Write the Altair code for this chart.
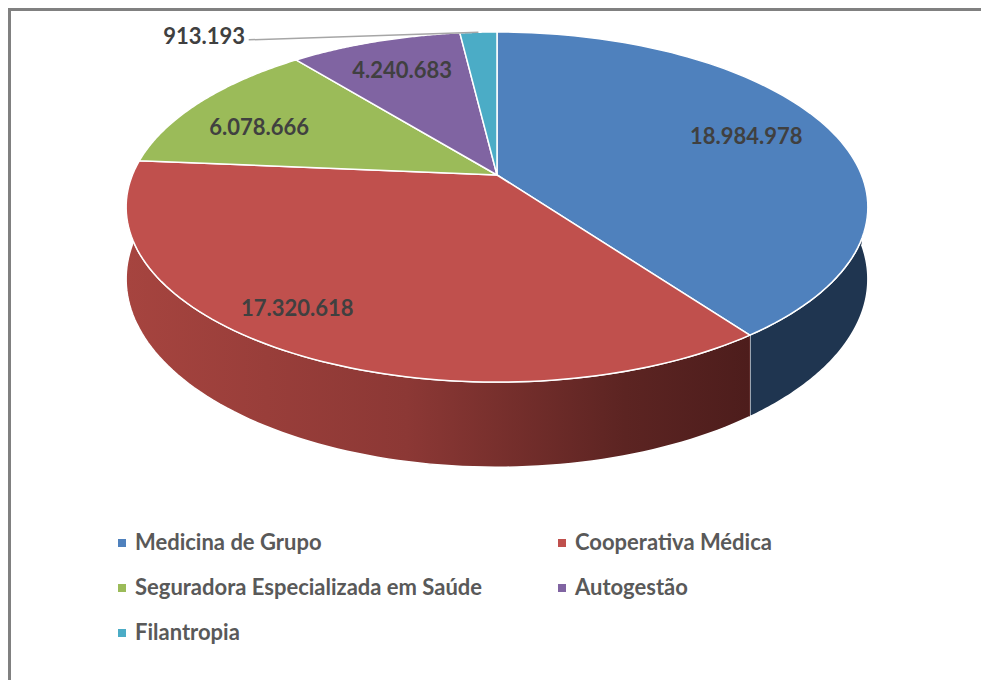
import altair as alt
import pandas as pd

# ---- data ----
categories = [
    "Medicina de Grupo",
    "Cooperativa Médica",
    "Seguradora Especializada em Saúde",
    "Autogestão",
    "Filantropia",
]
beneficiarios = [18984978, 17320618, 6078666, 4240683, 913193]
value_labels = [f"{v:,}".replace(",", ".") for v in beneficiarios]

# ---- styles ----
top_colors = ["#4F81BD", "#C0504D", "#9BBB59", "#8064A2", "#4BACC6"]
side_colors = ["#1F3550", "#8A3734", "#5E7530", "#4D3B63", "#2B6C7E"]

N = 90          # arc resolution
K = 0.183       # perspective factor of the tilted pie
D = 0.411       # pie thickness (y units)
W, H = 973, 672
X_DOM = [-1.3412, 1.3275]
Y_DOM = [-2.9846, 0.9870]
FONT = "Lato"
LABEL_R = 0.75
# small placement nudges of data labels (x units, y units)
NUDGE_X = {categories[1]: -0.13, categories[2]: -0.03}
NUDGE_Y = {categories[1]: -0.05, categories[2]: -0.055}

df = pd.DataFrame({
    "cat": categories,
    "value": beneficiarios,
    "label": value_labels,
    "idx": list(range(len(categories))),
})

xs = alt.Scale(domain=X_DOM, nice=False, zero=False)
ys = alt.Scale(domain=Y_DOM, nice=False, zero=False)


def nudge_expr(d):
    expr = "0"
    for k, v in d.items():
        expr = f"(datum.cat == '{k}' ? {v} : {expr})"
    return expr


base = (
    alt.Chart(df)
    .transform_joinaggregate(total="sum(value)")
    .transform_window(cum="sum(value)", sort=[alt.SortField("idx")], frame=[None, 0])
    .transform_calculate(a1="2*PI*(datum.cum - datum.value)/datum.total")
    .transform_calculate(a2="2*PI*datum.cum/datum.total")
)

# ---- side walls (front half only) ----
side_base = (
    base.transform_calculate(s1="max(datum.a1, PI/2)")
    .transform_calculate(s2="min(datum.a2, 3*PI/2)")
    .transform_filter("datum.s2 > datum.s1")
    .transform_calculate(seq=f"sequence(0, {2 * N + 2})")
    .transform_flatten(["seq"], as_=["k"])
    .transform_calculate(b=f"datum.k > {N} ? 1 : 0")
    .transform_calculate(
        t=f"datum.k <= {N} ? datum.s1 + (datum.s2 - datum.s1)*datum.k/{N} : "
          f"datum.s2 - (datum.s2 - datum.s1)*(datum.k - {N + 1})/{N}"
    )
    .transform_calculate(X=f"sin(datum.t)/(1 + {K}*cos(datum.t))")
    .transform_calculate(Y=f"(cos(datum.t) - datum.b*{D})/(1 + {K}*cos(datum.t))")
)

side = side_base.mark_line(stroke="white", strokeWidth=1.5, strokeJoin="round").encode(
    x=alt.X("X:Q", scale=xs, axis=None),
    y=alt.Y("Y:Q", scale=ys, axis=None),
    order=alt.Order("k:Q"),
    fill=alt.Fill("cat:N", scale=alt.Scale(domain=categories, range=side_colors), legend=None),
)

red_grad = alt.Gradient(
    gradient="linear",
    stops=[
        alt.GradientStop(color="#A6443F", offset=0),
        alt.GradientStop(color="#8C3835", offset=0.45),
        alt.GradientStop(color="#5C2422", offset=0.8),
        alt.GradientStop(color="#4D1D1C", offset=1),
    ],
    x1=0, x2=1, y1=0, y2=0,
)
side_red = (
    side_base.transform_filter(alt.datum.cat == categories[1])
    .mark_line(stroke="white", strokeWidth=1.5, strokeJoin="round", fill=red_grad)
    .encode(
        x=alt.X("X:Q", scale=xs, axis=None),
        y=alt.Y("Y:Q", scale=ys, axis=None),
        order=alt.Order("k:Q"),
        detail="cat:N",
    )
)

# ---- top faces ----
top = (
    base.transform_calculate(seq=f"sequence(0, {N + 3})")
    .transform_flatten(["seq"], as_=["k"])
    .transform_calculate(r=f"(datum.k == 0 || datum.k == {N + 2}) ? 0 : 1")
    .transform_calculate(t=f"datum.r == 0 ? 0 : datum.a1 + (datum.a2 - datum.a1)*(datum.k - 1)/{N}")
    .transform_calculate(X=f"datum.r*sin(datum.t)/(1 + {K}*datum.r*cos(datum.t))")
    .transform_calculate(Y=f"datum.r*cos(datum.t)/(1 + {K}*datum.r*cos(datum.t))")
    .mark_line(stroke="white", strokeWidth=1.5, strokeJoin="round")
    .encode(
        x=alt.X("X:Q", scale=xs, axis=None),
        y=alt.Y("Y:Q", scale=ys, axis=None),
        order=alt.Order("k:Q"),
        fill=alt.Fill(
            "cat:N",
            scale=alt.Scale(domain=categories, range=top_colors),
            sort=categories,
            legend=alt.Legend(
                title=None,
                orient="none",
                legendX=103,
                legendY=524,
                direction="horizontal",
                columns=2,
                symbolType="square",
                symbolSize=64,
                symbolStrokeWidth=0,
                labelFont=FONT,
                labelFontSize=22,
                labelFontWeight="bold",
                labelColor="#595959",
                labelOffset=2,
                labelLimit=0,
                rowPadding=23,
                columnPadding=68,
                padding=0,
            ),
        ),
    )
)

# ---- data labels ----
lab_base = (
    base.transform_calculate(m="(datum.a1 + datum.a2)/2")
    .transform_calculate(frac="datum.value/datum.total")
)

inside = (
    lab_base.transform_filter("datum.frac >= 0.05")
    .transform_calculate(
        X=f"{LABEL_R}*sin(datum.m)/(1 + {K}*{LABEL_R}*cos(datum.m)) + {nudge_expr(NUDGE_X)}"
    )
    .transform_calculate(
        Y=f"{LABEL_R}*cos(datum.m)/(1 + {K}*{LABEL_R}*cos(datum.m)) + {nudge_expr(NUDGE_Y)}"
    )
    .mark_text(font=FONT, fontSize=22, fontWeight="bold", color="#404040", align="center", baseline="middle")
    .encode(x=alt.X("X:Q", scale=xs, axis=None), y=alt.Y("Y:Q", scale=ys, axis=None), text="label:N")
)

out_base = (
    lab_base.transform_filter("datum.frac < 0.05")
    .transform_calculate(XE=f"sin(datum.m)/(1 + {K}*cos(datum.m))")
    .transform_calculate(YE=f"cos(datum.m)/(1 + {K}*cos(datum.m))")
    .transform_calculate(XL="datum.XE - 0.63")
    .transform_calculate(YL="datum.YE - 0.045")
    .transform_calculate(XT="datum.XE - 0.64")
    .transform_calculate(YT="datum.YE - 0.03")
)
leader = out_base.mark_rule(color="#A6A6A6", strokeWidth=1.5).encode(
    x=alt.X("XE:Q", scale=xs, axis=None),
    x2="XL:Q",
    y=alt.Y("YE:Q", scale=ys, axis=None),
    y2="YL:Q",
)
outside = out_base.mark_text(
    font=FONT, fontSize=22, fontWeight="bold", color="#404040", align="right", baseline="middle"
).encode(
    x=alt.X("XT:Q", scale=xs, axis=None),
    y=alt.Y("YT:Q", scale=ys, axis=None),
    text="label:N",
)

# ---- frame (top and left border of the chart area) ----
frame_top = alt.Chart(df).mark_rule(color="#808080", strokeWidth=3).encode(
    x=alt.value(0), x2=alt.value(W), y=alt.value(1.5)
)
frame_left = alt.Chart(df).mark_rule(color="#808080", strokeWidth=3).encode(
    x=alt.value(1.5), y=alt.value(0), y2=alt.value(H)
)

chart = (
    alt.layer(side, side_red, top, leader, inside, outside, frame_top, frame_left)
    .resolve_scale(fill="independent")
    .properties(width=W, height=H, autosize=alt.AutoSizeParams(type="none"), padding=0, background="white")
    .configure_view(stroke=None)
)

chart.save("out.html", embed_options={"renderer": "svg", "actions": False})
